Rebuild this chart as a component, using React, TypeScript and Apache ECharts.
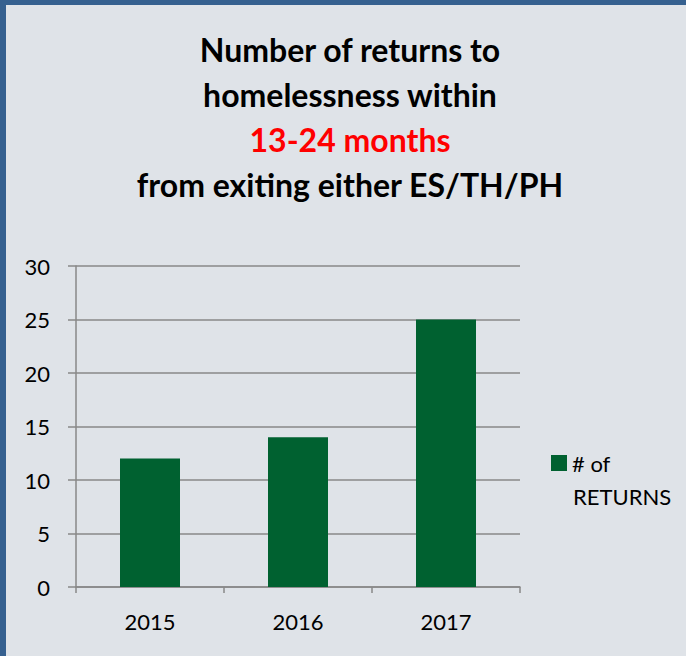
import React, { useEffect, useRef } from "react";
import * as echarts from "echarts";

const categories = ["2015", "2016", "2017"];
const returnsValues = [12, 14, 25];
const seriesName = "# of RETURNS";
const titleLines = ["Number of returns to", "homelessness within", "13-24 months", "from exiting either ES/TH/PH"];

export default function App() {
  const ref = useRef<HTMLDivElement>(null);
  useEffect(() => {
    const chart = echarts.init(ref.current!, null, { renderer: "svg" });
    const font = "Lato, 'Noto Sans', sans-serif";
    chart.setOption({
      animation: false,
      backgroundColor: "#dfe3e8",
      textStyle: { fontFamily: font },
      title: {
        text: `{a|${titleLines[0]}}\n{a|${titleLines[1]}}\n{r|${titleLines[2]}}\n{a|${titleLines[3]}}`,
        left: 345,
        top: 22,
        textAlign: "center",
        textStyle: {
          rich: {
            a: { fontSize: 32, fontWeight: "bold", color: "#000", lineHeight: 45, fontFamily: font, align: "center" },
            r: { fontSize: 32, fontWeight: "bold", color: "#ff0000", lineHeight: 45, fontFamily: font, align: "center" },
          },
        },
      },
      legend: {
        left: 551,
        top: 452,
        padding: 0,
        itemWidth: 16,
        itemHeight: 16,
        itemGap: 6,
        icon: "rect",
        formatter: () => "# of",
        textStyle: { fontSize: 22, color: "#000", fontFamily: font },
        data: [seriesName],
      },
      graphic: [
        { type: "rect", shape: { x: 0, y: 0, width: 686, height: 5 }, style: { fill: "#35608f" }, silent: true },
        { type: "rect", shape: { x: 0, y: 0, width: 6, height: 656 }, style: { fill: "#35608f" }, silent: true },
        {
          type: "text",
          left: 573,
          top: 485,
          style: { text: "RETURNS", fontSize: 22, fill: "#000", fontFamily: font },
        },
      ],
      grid: { left: 76, right: 166, top: 266, bottom: 69 },
      xAxis: {
        type: "category",
        data: categories,
        boundaryGap: true,
        axisLine: { show: true, lineStyle: { color: "#888", width: 1.5 } },
        axisTick: { show: true, length: 6, lineStyle: { color: "#888", width: 1.5 } },
        axisLabel: { fontSize: 22, color: "#000", margin: 23, fontFamily: font },
      },
      yAxis: {
        type: "value",
        min: 0,
        max: 30,
        interval: 5,
        axisLine: { show: true, lineStyle: { color: "#888", width: 1.5 } },
        axisTick: { show: true, length: 8, lineStyle: { color: "#888", width: 1.5 } },
        splitLine: { show: true, lineStyle: { color: "#888", width: 1.5 } },
        axisLabel: { fontSize: 22, color: "#000", margin: 26, fontFamily: font },
      },
      series: [
        {
          name: seriesName,
          type: "bar",
          data: returnsValues,
          barWidth: 60,
          itemStyle: { color: "#006130" },
        },
      ],
    });
    return () => chart.dispose();
  }, []);
  return <div ref={ref} style={{ position: "fixed", left: 0, top: 0, width: 686, height: 656 }} />;
}
